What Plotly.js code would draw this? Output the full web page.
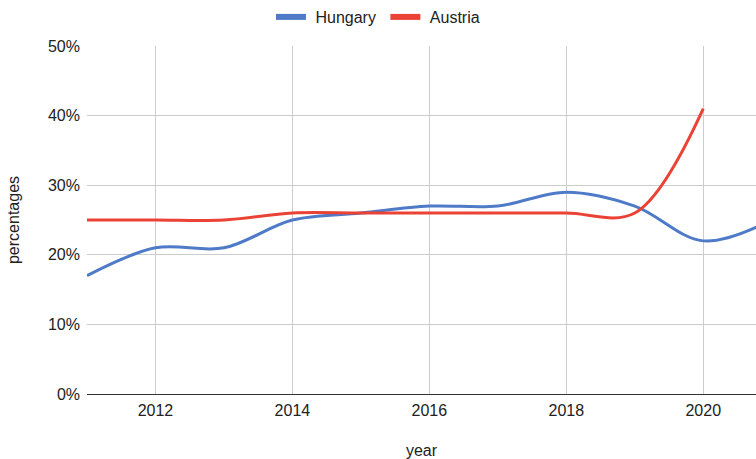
<!DOCTYPE html>
<html><head><meta charset="utf-8">
<script src="https://cdn.plot.ly/plotly-3.0.1.min.js"></script>
<style>html,body{margin:0;padding:0;background:#fff}#c{width:756px;height:459px}</style>
</head><body><div id="c"></div>
<script>
const years = [2011,2012,2013,2014,2015,2016,2017,2018,2019,2020,2021];
const hungary = [0.17,0.21,0.21,0.25,0.26,0.27,0.27,0.29,0.27,0.22,0.25];
const austriaYears = [2011,2012,2013,2014,2015,2016,2017,2018,2019,2020];
const austria = [0.25,0.25,0.25,0.26,0.26,0.26,0.26,0.26,0.26,0.41];
const xTicks = [2012,2014,2016,2018,2020];

const fam = 'Arial, "Liberation Sans", sans-serif';
const txt = '#222';
const blue = '#4e7ac7', red = '#ea4335';
const pad = '\u00a0';
Plotly.newPlot('c', [
  {x:years, y:hungary, name:'Hungary', mode:'lines', showlegend:false, line:{color:blue, width:3, shape:'spline', smoothing:1}},
  {x:austriaYears, y:austria, name:'Austria', mode:'lines', showlegend:false, line:{color:red, width:3, shape:'spline', smoothing:1}},
  {x:[null], y:[null], name:pad + 'Hungary' + pad, mode:'lines', line:{color:blue, width:6}},
  {x:[null], y:[null], name:pad + 'Austria', mode:'lines', line:{color:red, width:6}}
], {
  width:756, height:459,
  margin:{l:87, r:0, t:46, b:65},
  paper_bgcolor:'#fff', plot_bgcolor:'#fff',
  font:{family:fam, size:16, color:txt},
  showlegend:true,
  legend:{orientation:'h', x:0.5, xanchor:'center', xref:'container', y:1, yanchor:'top', yref:'container', font:{family:fam, size:16, color:txt}, itemwidth:30},
  xaxis:{range:[2011,2020.77], tickvals:xTicks, ticktext:xTicks.map(String), showgrid:true, gridcolor:'#cccccc', gridwidth:1, zeroline:false, showline:false, ticks:'', ticklabelstandoff:5, tickfont:{size:16, color:txt},
    title:{text:'year', font:{size:16, color:txt}, standoff:35}, automargin:false},
  yaxis:{range:[0,0.5], dtick:0.1, tickformat:'.0%', showgrid:true, gridcolor:'#cccccc', zeroline:true, zerolinecolor:'#333', zerolinewidth:1, ticks:'', ticklabelstandoff:6, tickfont:{size:16, color:txt},
    title:{text:'percentages', font:{size:16, color:txt}, standoff:24}, automargin:false}
}, {displayModeBar:false, staticPlot:true});
</script></body></html>
